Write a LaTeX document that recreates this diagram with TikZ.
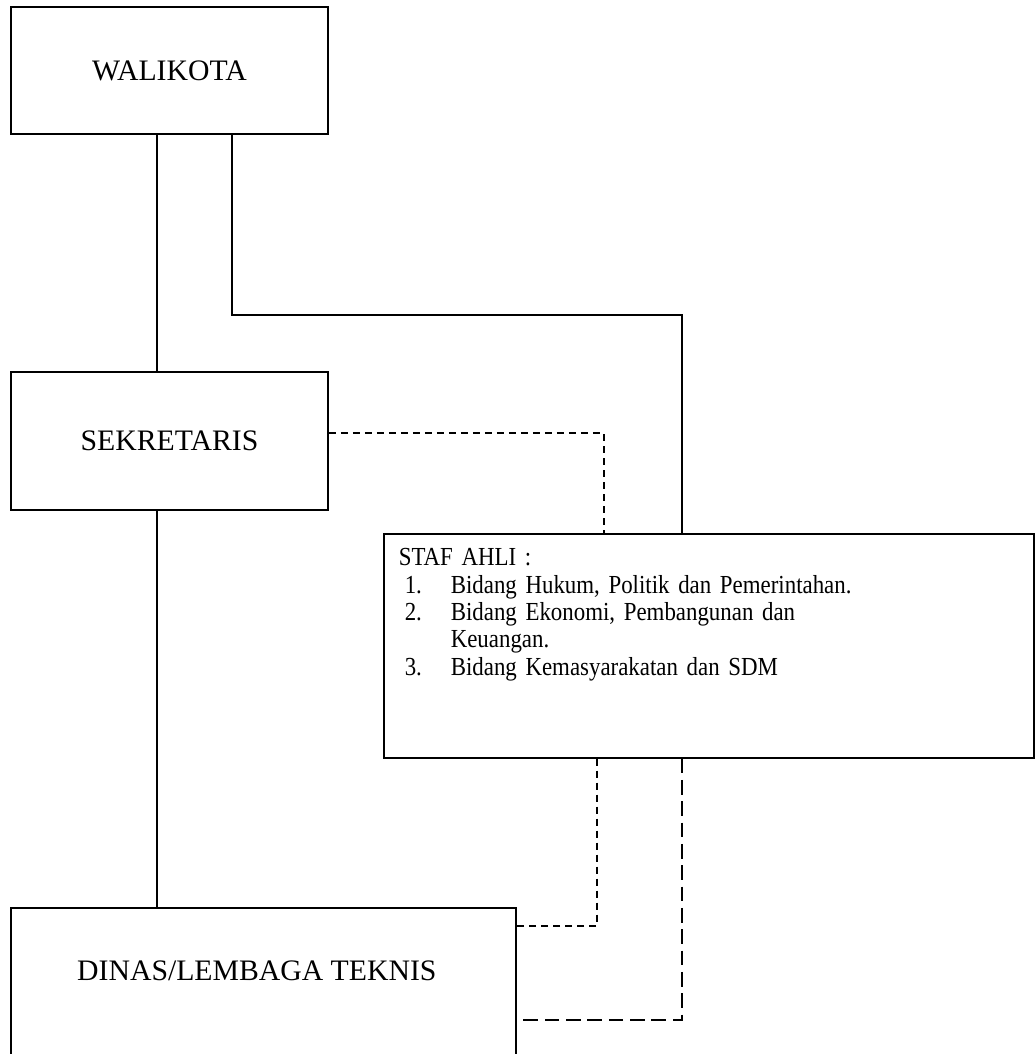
\documentclass[tikz,border=0pt]{standalone}
\usepackage{fontspec}
\setmainfont{Liberation Serif}
\newfontfamily\stafffont[FakeStretch=0.88]{Liberation Serif}
\usetikzlibrary{calc}

\begin{document}
\begin{tikzpicture}[
    x=0.75pt,
    y=-0.75pt,
    office/.style={rectangle,draw,line width=1.2pt,font=\fontsize{22.3}{25}\selectfont,minimum width=237.75pt,minimum height=95.25pt},
    staff/.style={rectangle,draw,line width=1.2pt,anchor=north west,align=left,font=\stafffont\fontsize{19.5}{20.5}\selectfont,inner xsep=11.25pt,inner ysep=11pt},
    command/.style={line width=1.2pt},
    advice/.style={line width=1.2pt,dash pattern=on 5.5pt off 3.5pt},
    advice long/.style={line width=1.2pt,dash pattern=on 11pt off 5pt}
]
\useasboundingbox (0,0) rectangle (1035,1054);

% Units
\node[office] (walikota) at (169.5,70.5) {WALIKOTA};
\node[office, minimum height=103.5pt] (sekretaris) at (169.5,441) {SEKRETARIS};
\node[staff, text width=465pt, text depth=133.1pt] (stafahli) at (383,533) {STAF AHLI :\\
\hspace*{4.5pt}\makebox[34.5pt][l]{1.}Bidang Hukum, Politik dan Pemerintahan.\\
\hspace*{4.5pt}\makebox[34.5pt][l]{2.}Bidang Ekonomi, Pembangunan dan\\
\hspace*{39pt}Keuangan.\\
\hspace*{4.5pt}\makebox[34.5pt][l]{3.}Bidang Kemasyarakatan dan SDM};
\node[office, anchor=north, minimum width=378.75pt, inner ysep=0pt, text height=54.75pt, text depth=150pt] (dinas) at (263.5,907) {DINAS/LEMBAGA TEKNIS\hspace*{10pt}};

% Lines of command
\draw[command] ($(walikota.south)+(-12.5,0)$) -- ($(sekretaris.north)+(-12.5,0)$);
\draw[command] ($(walikota.south)+(62.5,0)$) -- ++(0,180) -| ($(stafahli.north)+(-27,0)$);
\draw[command] ($(sekretaris.south)+(-12.5,0)$) -- ($(dinas.north)+(-106.5,0)$);

% Lines of advice
\draw[advice] ($(sekretaris.east)+(0,-8)$) -| ($(stafahli.north)+(-105,0)$);
\draw[advice] ($(stafahli.south)+(-112,0)$) |- ($(dinas.north east)+(0,19)$);
\draw[advice long] ($(stafahli.south)+(-27,0)$) |- ($(dinas.north east)+(0,113)$);

\end{tikzpicture}
\end{document}
